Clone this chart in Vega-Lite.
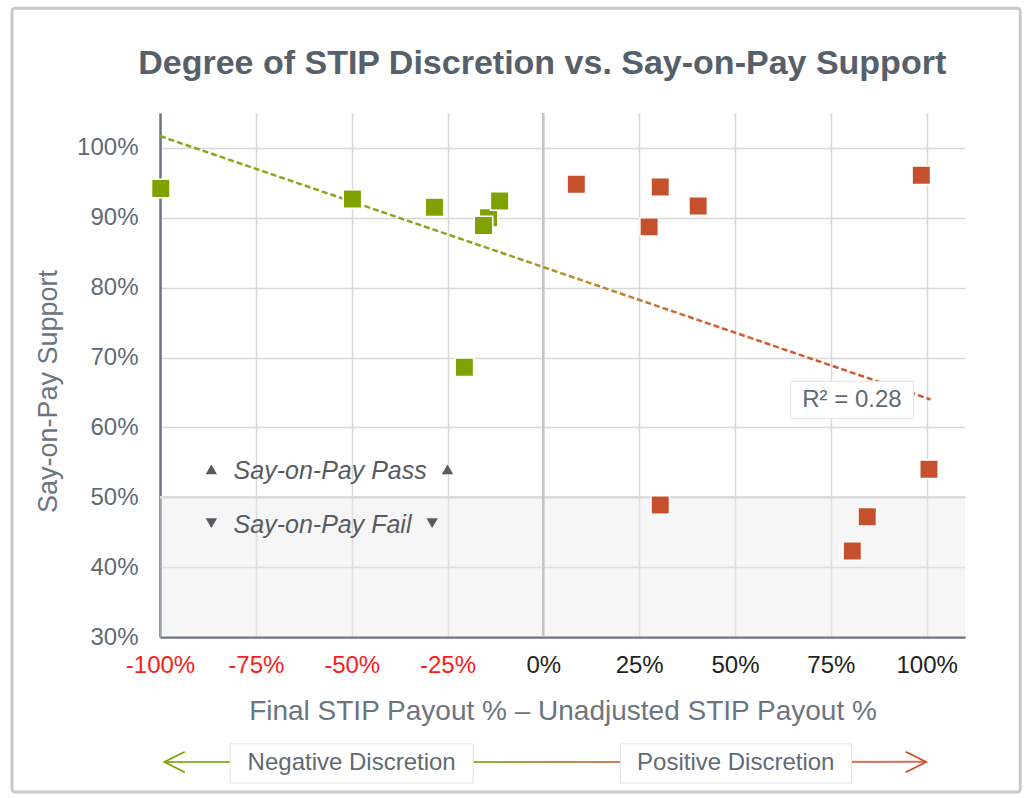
{
  "$schema": "https://vega.github.io/schema/vega-lite/v6.json",
  "width": 805,
  "height": 524,
  "autosize": {"type": "none"},
  "padding": {"left": 160, "top": 113, "right": 63, "bottom": 161},
  "background": "white",
  "config": {
    "font": "Liberation Sans",
    "view": {"stroke": null}
  },
  "datasets": {
    "points": [
      {"x": -99.8, "y": 94.2, "g": "neg"},
      {"x": -49.8, "y": 92.7, "g": "neg"},
      {"x": -28.4, "y": 91.5, "g": "neg"},
      {"x": -14.3, "y": 90.0, "g": "neg"},
      {"x": -15.6, "y": 88.9, "g": "neg"},
      {"x": -11.4, "y": 92.4, "g": "neg"},
      {"x": -20.6, "y": 68.6, "g": "neg"},
      {"x": 8.6, "y": 94.8, "g": "pos"},
      {"x": 30.5, "y": 94.4, "g": "pos"},
      {"x": 27.6, "y": 88.7, "g": "pos"},
      {"x": 40.4, "y": 91.7, "g": "pos"},
      {"x": 98.6, "y": 96.1, "g": "pos"},
      {"x": 100.6, "y": 54.0, "g": "pos"},
      {"x": 30.5, "y": 48.9, "g": "pos"},
      {"x": 84.5, "y": 47.2, "g": "pos"},
      {"x": 80.6, "y": 42.3, "g": "pos"}
    ]
  },
  "encoding": {
    "x": {
      "field": "x",
      "type": "quantitative",
      "scale": {"domain": [-100, 110], "nice": false, "zero": false},
      "axis": {
        "values": [-100, -75, -50, -25, 0, 25, 50, 75, 100],
        "labelExpr": "datum.value + '%'",
        "labelFontSize": 24,
        "labelColor": {"condition": {"test": "datum.value < 0", "value": "#ff1a1a"}, "value": "#222222"},
        "labelPadding": 16,
        "labelOverlap": false,
        "labelFlush": false,
        "labelBound": false,
        "ticks": false,
        "domainColor": "#6b7580",
        "domainWidth": 2.5,
        "gridColor": "#d8d8d8",
        "gridWidth": 1.5,
        "title": "Final STIP Payout % \u2013 Unadjusted STIP Payout %",
        "titleFontSize": 28,
        "titleFontWeight": "normal",
        "titleColor": "#6b7580",
        "titlePadding": 20
      }
    },
    "y": {
      "field": "y",
      "type": "quantitative",
      "scale": {"domain": [30, 105], "nice": false, "zero": false},
      "axis": {
        "values": [30, 40, 50, 60, 70, 80, 90, 100],
        "labelExpr": "datum.value + '%'",
        "labelFontSize": 24,
        "labelColor": "#5f6a74",
        "labelPadding": 22,
        "labelOverlap": false,
        "labelFlush": false,
        "ticks": false,
        "domainColor": "#6b7580",
        "domainWidth": 2.5,
        "gridColor": "#d8d8d8",
        "gridWidth": 1.5,
        "title": "Say-on-Pay Support",
        "titleFontSize": 27,
        "titleFontWeight": "normal",
        "titleColor": "#6b7580",
        "titlePadding": 14,
        "titleY": 278
      }
    }
  },
  "layer": [
    {
      "data": {"values": [{"x": -138.6, "x2": 124.4, "y": 7.8, "y2": 120.0}]},
      "mark": {"type": "rect", "fill": null, "fillOpacity": 0, "stroke": "#c8c8c8", "strokeWidth": 3, "cornerRadius": 3, "clip": false},
      "encoding": {"x2": {"field": "x2"}, "y2": {"field": "y2"}}
    },
    {
      "data": {"values": [{"x": -0.3, "y": 112.0, "t": "Degree of STIP Discretion vs. Say-on-Pay Support"}]},
      "mark": {"type": "text", "fontSize": 34, "fontWeight": "bold", "color": "#56606a", "align": "center", "baseline": "middle", "clip": false},
      "encoding": {"text": {"field": "t"}}
    },
    {
      "data": {"values": [{"x": -100, "x2": 110, "y": 30, "y2": 50}]},
      "mark": {"type": "rect", "fill": "#e8e8e8", "opacity": 0.4},
      "encoding": {"x2": {"field": "x2"}, "y2": {"field": "y2"}}
    },
    {
      "data": {"values": [{"x": -100, "x2": 110, "y": 50}]},
      "mark": {"type": "rule", "stroke": "#dcdcdc", "strokeWidth": 2.5},
      "encoding": {"x2": {"field": "x2"}}
    },
    {
      "data": {"values": [{"x": 0, "y": 30, "y2": 105}]},
      "mark": {"type": "rule", "stroke": "#c4c4c4", "strokeWidth": 2.5},
      "encoding": {"y2": {"field": "y2"}}
    },
    {
      "data": {"values": [{"x": -100, "y": 101.7}, {"x": 101, "y": 64.0}]},
      "mark": {
        "type": "line",
        "strokeWidth": 2.5,
        "strokeDash": [6, 3],
        "color": {
          "gradient": "linear",
          "x1": 0, "y1": 0, "x2": 1, "y2": 0,
          "stops": [
            {"offset": 0, "color": "#86a81a"},
            {"offset": 0.4, "color": "#8aa51c"},
            {"offset": 0.55, "color": "#bd8a2c"},
            {"offset": 0.72, "color": "#d0602f"},
            {"offset": 1, "color": "#d4532c"}
          ]
        }
      },
      "encoding": {}
    },
    {
      "data": {"name": "points"},
      "mark": {"type": "point", "shape": "square", "filled": true, "size": 340, "stroke": "white", "strokeWidth": 1.5, "opacity": 1},
      "encoding": {
        "color": {
          "field": "g",
          "type": "nominal",
          "scale": {"domain": ["neg", "pos"], "range": ["#80a200", "#c5502d"]},
          "legend": null
        }
      }
    },
    {
      "data": {"values": [{"x": 64.5, "x2": 96.6, "y": 61.3, "y2": 66.6}]},
      "mark": {"type": "rect", "fill": "white", "stroke": "#e4e4e4", "strokeWidth": 1},
      "encoding": {"x2": {"field": "x2"}, "y2": {"field": "y2"}}
    },
    {
      "data": {"values": [{"x": 80.5, "y": 63.9, "t": "R\u00b2 = 0.28"}]},
      "mark": {"type": "text", "fontSize": 24, "color": "#5f6a74", "align": "center", "baseline": "middle"},
      "encoding": {"text": {"field": "t"}}
    },
    {
      "data": {"values": [
        {"x": -80.8, "y": 53.8, "t": "Say-on-Pay Pass"},
        {"x": -80.8, "y": 46.1, "t": "Say-on-Pay Fail"}
      ]},
      "mark": {"type": "text", "fontSize": 25, "fontStyle": "italic", "color": "#555b61", "align": "left", "baseline": "middle"},
      "encoding": {"text": {"field": "t"}}
    },
    {
      "data": {"values": [
        {"x": -86.6, "y": 54.0, "s": "triangle-up"},
        {"x": -25.0, "y": 54.0, "s": "triangle-up"},
        {"x": -86.6, "y": 46.3, "s": "triangle-down"},
        {"x": -29.0, "y": 46.3, "s": "triangle-down"}
      ]},
      "mark": {"type": "point", "filled": true, "size": 130, "color": "#555b61", "opacity": 1},
      "encoding": {"shape": {"field": "s", "type": "nominal", "scale": null}}
    },
    {
      "data": {"values": [{"x": -98.8, "y": 12.10}, {"x": 99.8, "y": 12.13}]},
      "mark": {
        "type": "line",
        "strokeWidth": 2,
        "clip": false,
        "color": {
          "gradient": "linear",
          "x1": 0, "y1": 0, "x2": 1, "y2": 0,
          "stops": [
            {"offset": 0, "color": "#8db33a"},
            {"offset": 0.4, "color": "#8db33a"},
            {"offset": 0.6, "color": "#cf7d5b"},
            {"offset": 1, "color": "#d9694f"}
          ]
        }
      },
      "encoding": {}
    },
    {
      "data": {"values": [
        {"x": -96.2, "y": 12.1, "g": "neg", "s": "M1,-1L-1,0L1,1"},
        {"x": 97.2, "y": 12.1, "g": "pos", "s": "M-1,-1L1,0L-1,1"}
      ]},
      "mark": {"type": "point", "filled": false, "size": 420, "strokeWidth": 1.8, "opacity": 1, "clip": false},
      "encoding": {
        "shape": {"field": "s", "type": "nominal", "scale": null},
        "color": {"field": "g", "type": "nominal", "scale": {"domain": ["neg", "pos"], "range": ["#8db33a", "#d9694f"]}, "legend": null}
      }
    },
    {
      "data": {"values": [
        {"x": -81.7, "x2": -18.3, "y": 9.1, "y2": 14.7},
        {"x": 20.1, "x2": 80.4, "y": 9.1, "y2": 14.7}
      ]},
      "mark": {"type": "rect", "fill": "white", "stroke": "#e2e2e2", "strokeWidth": 1, "clip": false},
      "encoding": {"x2": {"field": "x2"}, "y2": {"field": "y2"}}
    },
    {
      "data": {"values": [
        {"x": -50.0, "y": 12.0, "t": "Negative Discretion"},
        {"x": 50.2, "y": 12.0, "t": "Positive Discretion"}
      ]},
      "mark": {"type": "text", "fontSize": 24, "color": "#5f6a74", "align": "center", "baseline": "middle", "clip": false},
      "encoding": {"text": {"field": "t"}}
    }
  ]
}
